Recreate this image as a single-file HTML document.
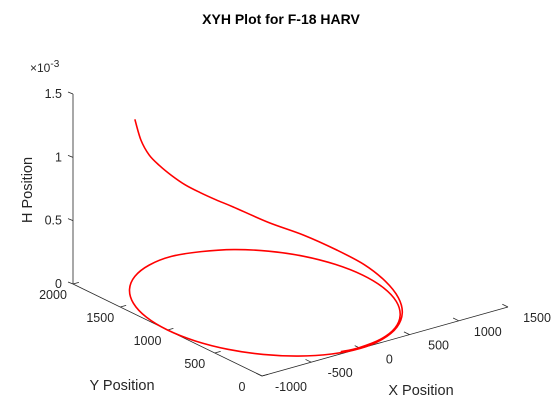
<!DOCTYPE html>
<html><head><meta charset="utf-8"><style>
html,body{margin:0;padding:0;background:#fff;}
svg{display:block;font-family:"Liberation Sans","DejaVu Sans",sans-serif;}
</style></head><body>
<svg id="chart" width="560" height="420" viewBox="0 0 560 420" xmlns="http://www.w3.org/2000/svg">
<rect width="560" height="420" fill="#fff"/>
<text x="281" y="24" text-anchor="middle" font-weight="bold" font-size="14" fill="#000">XYH Plot for F-18 HARV</text>
<g id="axes"></g>
<g id="series"></g>
</svg>
<script>
const xTicks = [-1000, -500, 0, 500, 1000, 1500];
const yTicks = [0, 500, 1000, 1500, 2000];
const hTicks = [0, 0.5, 1, 1.5];
const hTickLabels = ["0", "0.5", "1", "1.5"];
const posX = [-500,-383,-259,-131,0,131,259,383,500,707,866,966,1000,966,866,707,500,259,0,-259,-500,-707,-866,-966,-1000,-966,-866,-707,-500,-259,0,255,493,696,853,951,985,951,853,696,493,255,0,-171];
const posY = [1866,1924,1966,1991,2000,1991,1966,1924,1866,1707,1500,1259,1000,741,500,293,134,34,0,34,134,293,500,741,1000,1259,1500,1707,1866,1966,2000,1951,1853,1696,1493,1255,1000,745,508,304,147,49,15,30];
const posH = [1.24,1.03,0.87,0.75,0.64,0.54,0.46,0.39,0.33,0.22,0.16,0.11,0.08,0.05,0.03,0.02,0.01,0.005,0,0,0,0,0,0,0,0,0,0,0,0,0,0,0,0,0,0,0,0,0,0,0,0,0,0];

const NS = "http://www.w3.org/2000/svg";
const O = [262, 376];
const EX = [246/2500, -69/2500];
const EY = [-189/2000, -92/2000];
const EH = [0, -190/1.5];
function proj(x, y, h) {
  const dx = x + 1000;
  return [O[0] + dx*EX[0] + y*EY[0] + h*EH[0], O[1] + dx*EX[1] + y*EY[1] + h*EH[1]];
}
const axes = document.getElementById('axes');
const series = document.getElementById('series');
function line(p, q, name) {
  const l = document.createElementNS(NS, 'line');
  l.setAttribute('x1', p[0]); l.setAttribute('y1', p[1]);
  l.setAttribute('x2', q[0]); l.setAttribute('y2', q[1]);
  l.setAttribute('stroke', '#262626'); l.setAttribute('stroke-width', '0.8');
  
  
  axes.appendChild(l);
}
function text(x, y, s, name, anchor, size) {
  const t = document.createElementNS(NS, 'text');
  t.setAttribute('x', x); t.setAttribute('y', y);
  t.setAttribute('text-anchor', anchor || 'middle');
  t.setAttribute('font-size', size || 12.5);
  t.setAttribute('fill', '#262626');
  t.textContent = s;
  
  
  axes.appendChild(t);
  return t;
}
line(proj(-1000,0,0), proj(1500,0,0), 'x-axis-line');
line(proj(-1000,0,0), proj(-1000,2000,0), 'y-axis-line');
line(proj(-1000,2000,0), proj(-1000,2000,1.5), 'h-axis-line');
xTicks.forEach(v => {
  const p = proj(v,0,0), q = proj(v,60,0);
  line(p, q, 'x-tick');
  text(p[0]+29, p[1]+15, String(v), 'x-tick-label');
});
yTicks.forEach(v => {
  const p = proj(-1000,v,0), q = proj(-940,v,0);
  line(p, q, 'y-tick');
  text(p[0]-20, p[1]+15, String(v), 'y-tick-label');
});
hTicks.forEach((v,i) => {
  const p = proj(-1000,2000,v);
  line([p[0]-5, p[1]-2], p, 'h-tick');
  text(p[0]-11, p[1]+4, hTickLabels[i], 'h-tick-label', 'end');
});
const ex = text(30, 72, '\u00d710', 'h-axis-exponent', 'start', 12);
const sup = document.createElementNS(NS, 'tspan');
sup.setAttribute('dy', '-5'); sup.setAttribute('font-size', '10');
sup.textContent = '-3';


ex.appendChild(sup);
text(122, 390, 'Y Position', 'y-axis-title', 'middle', 14.5);
text(421, 395, 'X Position', 'x-axis-title', 'middle', 14.5);
const ht = text(0, 0, 'H Position', 'h-axis-title', 'middle', 14.5);
ht.setAttribute('transform', 'translate(32,190) rotate(-90)');

const pts = posX.map((x,i) => proj(x, posY[i], posH[i]));
let d = 'M' + pts[0][0] + ',' + pts[0][1];
for (let i = 0; i < pts.length - 1; i++) {
  const p0 = pts[Math.max(0,i-1)], p1 = pts[i], p2 = pts[i+1], p3 = pts[Math.min(pts.length-1,i+2)];
  const c1 = [p1[0] + (p2[0]-p0[0])/6, p1[1] + (p2[1]-p0[1])/6];
  const c2 = [p2[0] - (p3[0]-p1[0])/6, p2[1] - (p3[1]-p1[1])/6];
  d += ' C' + c1[0] + ',' + c1[1] + ' ' + c2[0] + ',' + c2[1] + ' ' + p2[0] + ',' + p2[1];
}
const path = document.createElementNS(NS, 'path');
path.setAttribute('d', d);
path.setAttribute('fill', 'none');
path.setAttribute('stroke', '#ff0000');
path.setAttribute('stroke-width', '1.6');


series.appendChild(path);
</script>
</body></html>
